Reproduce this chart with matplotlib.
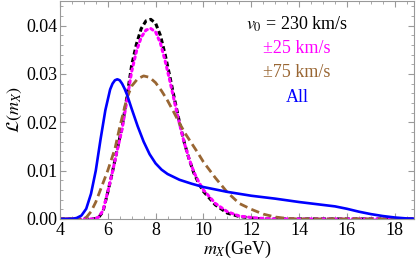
import numpy as np
import matplotlib
matplotlib.use("Agg")
import matplotlib.pyplot as plt
from matplotlib.ticker import MultipleLocator

plt.rcParams['font.family'] = ['Liberation Serif', 'DejaVu Serif']
plt.rcParams['mathtext.fontset'] = 'stix'

# v0 = 230 km/s (black)
m_v0 = [4.0, 5.4, 5.6, 5.8, 6.0, 6.2, 6.4, 6.6, 6.8, 7.0, 7.2, 7.4, 7.6, 7.8, 8.0, 8.2, 8.4,
        8.6, 8.8, 9.0, 9.2, 9.4, 9.6, 9.8, 10.0, 10.5, 11.0, 11.5, 12.0, 12.5, 18.8]
L_v0 = [0.0, 0.0, 0.0002, 0.0015, 0.0055, 0.0098, 0.0145, 0.0190, 0.0252, 0.0318, 0.0362,
        0.0394, 0.0410, 0.0413, 0.0405, 0.0380, 0.0340, 0.0294, 0.0246, 0.0200, 0.0158,
        0.0124, 0.0095, 0.0074, 0.0057, 0.0029, 0.0012, 0.0005, 0.0002, 0.0, 0.0]

# +-25 km/s (magenta)
m_25 = [4.0, 5.4, 5.6, 5.8, 6.0, 6.2, 6.4, 6.6, 6.8, 7.0, 7.2, 7.4, 7.6, 7.8, 8.0, 8.2, 8.4,
        8.6, 8.8, 9.0, 9.2, 9.4, 9.6, 9.8, 10.0, 10.5, 11.0, 11.5, 12.0, 12.5, 13.0, 18.8]
L_25 = [0.0, 0.0, 0.0003, 0.0017, 0.0056, 0.0098, 0.0143, 0.0186, 0.0245, 0.0305, 0.0347,
        0.0376, 0.0391, 0.0394, 0.0387, 0.0364, 0.0327, 0.0285, 0.0240, 0.0197, 0.0157,
        0.0125, 0.0097, 0.0077, 0.0060, 0.0032, 0.0015, 0.0006, 0.0003, 0.0001, 0.0, 0.0]

# +-75 km/s (brown)
m_75 = [4.0, 4.9, 5.1, 5.3, 5.5, 5.8, 6.0, 6.3, 6.5, 6.8, 7.0, 7.25, 7.5, 7.75, 8.0, 8.25,
        8.5, 8.75, 9.0, 9.25, 9.5, 9.75, 10.0, 10.5, 11.0, 11.5, 12.0, 12.5, 13.0, 13.5,
        14.0, 18.8]
L_75 = [0.0, 0.0, 0.0003, 0.0015, 0.0035, 0.0074, 0.0100, 0.0145, 0.0190, 0.0250, 0.0275,
        0.0290, 0.0296, 0.0293, 0.0282, 0.0265, 0.0245, 0.0222, 0.0198, 0.0176, 0.0157,
        0.0138, 0.0118, 0.0085, 0.0055, 0.0032, 0.0020, 0.0010, 0.0004, 0.0001, 0.0, 0.0]

# All (blue)
m_all = [4.0, 4.5, 4.7, 4.9, 5.1, 5.3, 5.5, 5.7, 5.9, 6.1, 6.2, 6.3, 6.4, 6.5, 6.6, 6.7, 6.8,
         7.0, 7.25, 7.5, 7.75, 8.0, 8.25, 8.5, 9.0, 9.5, 10.0, 10.5, 11.0, 12.0, 13.0,
         14.0, 15.0, 15.5, 16.0, 16.5, 17.0, 17.5, 18.0, 18.5, 18.8]
L_all = [0.0, 0.0, 0.0002, 0.0007, 0.0021, 0.0052, 0.0100, 0.0165, 0.0225, 0.0268, 0.0280,
         0.0287, 0.0289, 0.0287, 0.0280, 0.0270, 0.0258, 0.0228, 0.0192, 0.0160, 0.0134,
         0.0115, 0.0102, 0.0093, 0.0081, 0.0073, 0.0066, 0.0061, 0.0056, 0.0048, 0.0042,
         0.0035, 0.0029, 0.0026, 0.0021, 0.0015, 0.0010, 0.0006, 0.0003, 0.0001, 0.00005]

labels = [r'$v_0$ = 230 km/s', u'\u00b125 km/s', u'\u00b175 km/s', 'All']
label_colors = ['black', 'magenta', '#996633', 'blue']

fig = plt.figure(figsize=(4.16, 2.67), dpi=100)
ax = fig.add_axes([0.144, 0.18, 0.851, 0.818])

ax.plot(m_v0, L_v0, color='black', lw=2.2, ls=(0, (1.6, 1.0)))
ax.plot(m_25, L_25, color='magenta', lw=2.2, ls=(0, (0.8, 1.2)), dash_capstyle='round')
ax.plot(m_75, L_75, color='#996633', lw=2.0, ls=(0, (3.0, 1.6)))
ax.plot(m_all, L_all, color='blue', lw=1.9)

ax.set_xlim(4, 18.8)
ax.set_ylim(0, 0.0452)
ax.xaxis.set_major_locator(MultipleLocator(2))
ax.xaxis.set_minor_locator(MultipleLocator(0.5))
ax.yaxis.set_major_locator(MultipleLocator(0.01))
ax.yaxis.set_minor_locator(MultipleLocator(0.002))
ax.yaxis.set_major_formatter(matplotlib.ticker.FormatStrFormatter('%.2f'))
ax.tick_params(which='both', direction='in', top=True, right=True, color='#999999',
               labelsize=13)
ax.tick_params(which='major', length=4, pad=2)
ax.tick_params(which='minor', length=2)
for s in ax.spines.values():
    s.set_color('#999999')

ax.set_xlabel(r'$m_X$(GeV)', fontsize=13, labelpad=0)
ax.set_ylabel(r'$\mathcal{L}(m_X)$', fontsize=13, labelpad=1)

ys = [0.89, 0.78, 0.67, 0.557]
for t, c, y in zip(labels, label_colors, ys):
    ax.text(0.67, y, t, color=c, fontsize=13, ha='center', va='center',
            transform=ax.transAxes)

fig.savefig('out.png', dpi=100)
